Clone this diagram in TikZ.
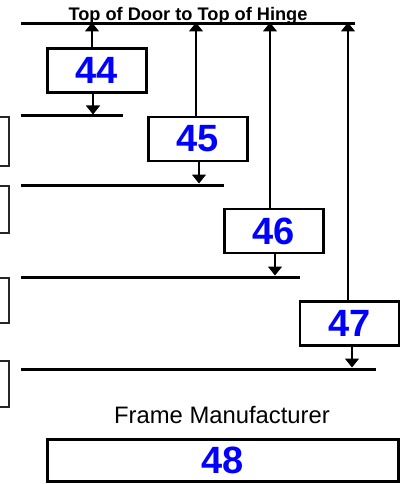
\documentclass[tikz,border=0pt]{standalone}
\usepackage{fontspec}
\setmainfont{Liberation Sans}
\usetikzlibrary{arrows.meta}
\begin{document}
\begin{tikzpicture}[x=1pt,y=-1pt,
  numbox/.style={draw=black,line width=2.6pt,inner sep=0pt,minimum width=99pt,minimum height=44pt,
    font=\fontsize{38}{42}\selectfont\bfseries,text=blue},
  stub/.style={draw=black!85,line width=2pt},
  level/.style={line width=3pt},
  arr/.style={line width=1.3pt,-{Triangle[width=14pt,length=9pt]}}]
\useasboundingbox (0,0) rectangle (402,484);
\begin{scope}
\clip (0,0) rectangle (402,484);
% clipped boxes at the left edge
\node[stub,inner sep=0pt,minimum width=30pt,minimum height=49pt] (s1) at (-6,141.5) {};
\node[stub,inner sep=0pt,minimum width=30pt,minimum height=47pt] (s2) at (-6,209.5) {};
\node[stub,inner sep=0pt,minimum width=30pt,minimum height=45pt] (s3) at (-6,300.5) {};
\node[stub,inner sep=0pt,minimum width=30pt,minimum height=46pt] (s4) at (-6,383.5) {};
\end{scope}
% title
\node[anchor=base,font=\fontsize{18.2}{21}\selectfont\bfseries,inner sep=0pt] (title) at (188,20.5) {Top of Door to Top of Hinge};
% level lines
\draw[level] (21,24) coordinate (l1a) -- (355,24) coordinate (l1b);
\draw[level] (21,116) coordinate (l2a) -- (123,116) coordinate (l2b);
\draw[level] (21,185) coordinate (l3a) -- (224,185) coordinate (l3b);
\draw[level] (21,277) coordinate (l4a) -- (300,277) coordinate (l4b);
\draw[level] (21,369) coordinate (l5a) -- (376,369) coordinate (l5b);
% boxes
\node[numbox] (b44) at (97,70.5) {44};
\node[numbox] (b45) at (198,139) {45};
\node[numbox] (b46) at (274,231) {46};
\node[numbox] (b47) at (349.5,323.5) {47};
\node[anchor=base,font=\fontsize{23.8}{27}\selectfont,inner sep=0pt] (fm) at (222,423) {Frame Manufacturer};
\node[numbox,minimum width=351pt,minimum height=42pt] (b48) at (223,460.5) {48};
% arrow end points on the lines
\coordinate (u44) at (92,22.5);
\coordinate (u45) at (196,22.5);
\coordinate (u46) at (270,22.5);
\coordinate (u47) at (348,22.5);
\coordinate (d44) at (93,114.5);
\coordinate (d45) at (199,183.5);
\coordinate (d46) at (275,275.5);
\coordinate (d47) at (352,367.5);
% arrows
\draw[arr] (b44.north -| u44) -- (u44);
\draw[arr] (b45.north -| u45) -- (u45);
\draw[arr] (b46.north -| u46) -- (u46);
\draw[arr] (b47.north -| u47) -- (u47);
\draw[arr] (b44.south -| d44) -- (d44);
\draw[arr] (b45.south -| d45) -- (d45);
\draw[arr] (b46.south -| d46) -- (d46);
\draw[arr] (b47.south -| d47) -- (d47);
\end{tikzpicture}
\end{document}
